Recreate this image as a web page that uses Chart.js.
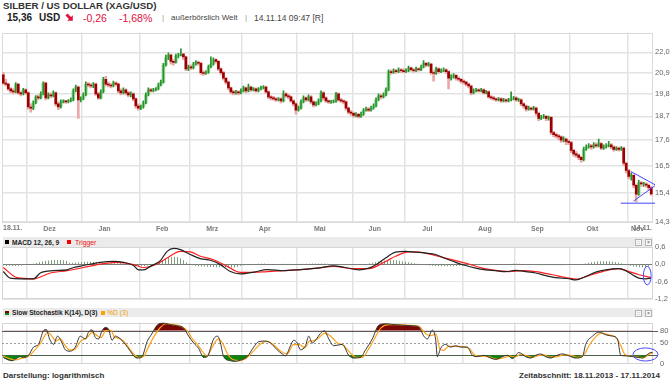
<!DOCTYPE html>
<html><head><meta charset="utf-8">
<script src="https://cdn.jsdelivr.net/npm/chart.js@4.4.1/dist/chart.umd.min.js"></script>
<style>
html,body{margin:0;padding:0;background:#fff}
body{width:671px;height:380px;overflow:hidden;position:relative;font-family:"Liberation Sans",Arial,sans-serif}
.a{position:absolute;white-space:nowrap;line-height:1}
canvas{position:absolute;left:0}
.bar{position:absolute;left:3px;width:650px;background:#ebebeb}
.sq{position:absolute;width:4px;height:4px}
.ic{position:absolute;width:5px;height:5px;border:1px solid #b4b4b4;background:#f7f7f7;font-size:5px;line-height:5px;text-align:center;color:#555}
</style></head><body>

<div class="a" style="left:3px;top:1.3px;font-size:9.7px;font-weight:bold;color:#333">SILBER / US DOLLAR (XAG/USD)</div>
<div class="a" style="left:7px;top:12.5px;font-size:10px;font-weight:bold;color:#222">15,36</div>
<div class="a" style="left:39px;top:12.5px;font-size:10px;font-weight:bold;color:#222">USD</div>
<svg style="position:absolute;left:65px;top:13px" width="9" height="9" viewBox="0 0 9 9"><polygon points="0.5,2.5 2.5,0.5 6,4 7.8,2.2 7.8,7.8 2.2,7.8 4,6" fill="#e0103c"/></svg>
<div class="a" style="left:83px;top:12.5px;font-size:10.5px;color:#e0103c">-0,26</div>
<div class="a" style="left:119px;top:12.5px;font-size:10.5px;color:#e0103c">-1,68%</div>
<div class="a" style="left:162px;top:14.2px;font-size:8px;color:#999">|</div>
<div class="a" style="left:171px;top:14.2px;font-size:8px;color:#444">außerbörslich Welt</div>
<div class="a" style="left:245px;top:14.2px;font-size:8px;color:#999">|</div>
<div class="a" style="left:254px;top:13.8px;font-size:8.5px;color:#444">14.11.14 09:47 [R]</div>

<div class="bar" style="top:237px;height:10px"></div>
<div class="sq" style="left:5px;top:240px;background:#000"></div>
<div class="a" style="left:12px;top:239.5px;font-size:6.6px;font-weight:bold;color:#222">MACD 12, 26, 9</div>
<div class="sq" style="left:67px;top:240px;background:#f00"></div>
<div class="a" style="left:75px;top:239.5px;font-size:6.8px;color:#f01010">Trigger</div>
<div class="ic" style="left:635px;top:239px">::</div>
<div class="ic" style="left:645px;top:239px">×</div>

<div class="bar" style="top:308px;height:9px"></div>
<div class="sq" style="left:5px;top:311px;background:linear-gradient(#7a0000 55%,#0a8a0a 55%)"></div>
<div class="a" style="left:12px;top:309.8px;font-size:6.6px;font-weight:bold;color:#222">Slow Stochastik K(14), D(3)</div>
<div class="sq" style="left:101px;top:311px;background:#ffa000"></div>
<div class="a" style="left:107px;top:309.8px;font-size:6.8px;color:#f0a000">%D (3)</div>
<div class="ic" style="left:635px;top:309.5px">::</div>
<div class="ic" style="left:645px;top:309.5px">×</div>

<div class="a" style="left:3px;top:371.5px;font-size:8px;font-weight:bold;color:#333">Darstellung: logarithmisch</div>
<div class="a" style="right:11px;top:371.5px;font-size:8px;font-weight:bold;color:#333">Zeitabschnitt: 18.11.2013 - 17.11.2014</div>

<canvas id="cMain" width="671" height="210" style="top:26px"></canvas>
<canvas id="cMacd" width="671" height="66" style="top:240px"></canvas>
<canvas id="cStoch" width="671" height="64" style="top:311px"></canvas>

<script>
// ---------- data ----------
const firstDay = '2013-11-18', lastDay = '2014-11-14';
const startLabel = '18.11.', endLabel = '14.11.';
const monthNames = ['Dez','Jan','Feb','Mrz','Apr','Mai','Jun','Jul','Aug','Sep','Okt','Nov'];
const priceTicks = [14.3,15.4,16.5,17.6,18.7,19.8,20.9,22.0];

const closes = [20.35,20.3,20.05,19.95,19.9,20.3,19.85,19.8,20.0,19.85,
19.15,19.1,19.35,19.65,19.6,19.8,20.35,19.6,19.75,19.7,
19.85,19.3,19.15,19.4,19.42,19.4,19.45,19.5,19.95,20.15,
19.5,19.55,19.75,20.3,20.25,20.2,20.3,19.8,19.6,19.9,
20.55,20.3,20.25,20.2,20.35,20.3,19.95,19.85,20.0,19.85,
19.75,19.8,19.55,19.2,19.1,19.15,19.35,19.75,20.0,19.95,
20.0,20.05,20.25,20.4,21.3,21.7,21.85,21.5,21.45,21.8,
21.85,21.9,21.75,21.1,21.2,21.15,21.35,21.45,21.4,20.9,
20.85,20.9,21.2,21.35,21.6,21.5,21.1,20.9,20.6,20.4,
20.1,19.9,19.85,19.9,19.85,19.95,20.1,19.95,20.15,20.0,
20.05,19.95,20.05,20.1,20.15,19.9,19.65,19.6,19.55,19.5,
19.55,19.45,19.8,19.7,19.65,19.45,19.3,19.0,19.1,19.4,
19.6,19.5,19.65,19.4,19.25,19.3,19.45,19.85,19.6,19.45,
19.4,19.4,19.42,19.8,19.5,19.45,19.4,19.1,18.9,18.85,
18.75,18.8,18.7,18.8,19.0,19.05,19.0,19.1,19.2,19.5,
19.7,19.65,19.75,20.0,20.95,20.9,21.0,20.95,21.05,21.0,
20.95,21.0,21.15,21.05,21.0,21.1,21.05,21.2,21.4,21.3,
21.35,20.9,20.85,21.1,20.95,21.0,21.05,20.95,20.6,20.7,
20.75,20.6,20.55,20.45,20.4,20.3,20.2,19.85,19.95,20.0,
19.95,20.0,19.85,19.9,19.65,19.6,19.55,19.5,19.55,19.45,
19.5,19.45,19.5,19.55,19.6,19.5,19.5,19.3,19.2,19.05,
19.1,19.05,19.1,18.85,18.6,18.65,18.7,18.6,18.65,17.95,
17.85,17.8,17.75,17.6,17.65,17.55,17.5,17.15,17.0,16.95,
16.85,16.75,17.2,17.3,17.35,17.3,17.4,17.35,17.45,17.25,
17.3,17.35,17.4,17.3,17.2,17.25,17.2,17.25,16.6,16.3,
16.05,16.1,15.7,15.35,15.8,15.75,15.75,15.7,15.6,15.36];

const opens = [20.78,20.35,20.3,20.05,19.95,19.9,20.3,19.85,19.8,20.0,
19.85,19.15,19.1,19.35,19.65,19.6,19.8,20.35,19.6,19.75,
19.7,19.85,19.3,19.15,19.4,19.42,19.4,19.45,19.5,19.95,
20.15,19.5,19.55,19.75,20.3,20.25,20.2,20.3,19.8,19.6,
19.9,20.55,20.3,20.25,20.2,20.35,20.3,19.95,19.85,20.0,
19.85,19.75,19.8,19.55,19.2,19.1,19.15,19.35,19.75,20.0,
19.95,20.0,20.05,20.25,20.4,21.3,21.7,21.85,21.5,21.45,
21.8,21.85,21.9,21.75,21.1,21.2,21.15,21.35,21.45,21.4,
20.9,20.85,20.9,21.2,21.35,21.6,21.5,21.1,20.9,20.6,
20.4,20.1,19.9,19.85,19.9,19.85,19.95,20.1,19.95,20.15,
20.0,20.05,19.95,20.05,20.1,20.15,19.9,19.65,19.6,19.55,
19.5,19.55,19.45,19.8,19.7,19.65,19.45,19.3,19.0,19.1,
19.4,19.6,19.5,19.65,19.4,19.25,19.3,19.45,19.85,19.6,
19.45,19.4,19.4,19.42,19.8,19.5,19.45,19.4,19.1,18.9,
18.85,18.75,18.8,18.7,18.8,19.0,19.05,19.0,19.1,19.2,
19.5,19.7,19.65,19.75,20.0,20.95,20.9,21.0,20.95,21.05,
21.0,20.95,21.0,21.15,21.05,21.0,21.1,21.05,21.2,21.4,
21.3,21.35,20.9,20.85,21.1,20.95,21.0,21.05,20.95,20.6,
20.7,20.75,20.6,20.55,20.45,20.4,20.3,20.2,19.85,19.95,
20.0,19.95,20.0,19.85,19.9,19.65,19.6,19.55,19.5,19.55,
19.45,19.5,19.45,19.5,19.55,19.6,19.5,19.5,19.3,19.2,
19.05,19.1,19.05,19.1,18.85,18.6,18.65,18.7,18.6,18.65,
17.95,17.85,17.8,17.75,17.6,17.65,17.55,17.5,17.15,17.0,
16.95,16.85,16.75,17.2,17.3,17.35,17.3,17.4,17.35,17.45,
17.25,17.3,17.35,17.4,17.3,17.2,17.25,17.2,17.25,16.6,
16.3,16.05,16.1,15.7,15.35,15.8,15.75,15.75,15.7,15.6];

const highs = [20.9,20.55,20.35,20.12,20.05,20.38,20.32,19.92,20.08,20.05,
19.9,19.3,19.45,19.72,19.75,19.9,20.42,20.4,19.85,19.85,
19.95,19.9,19.4,19.5,19.5,19.48,19.52,19.6,20.05,20.25,
20.2,19.65,19.85,20.42,20.38,20.32,20.38,20.35,19.88,20.0,
20.65,20.7,20.4,20.32,20.45,20.42,20.35,20.05,20.1,20.05,
19.92,19.9,19.85,19.6,19.3,19.25,19.45,19.85,20.1,20.08,
20.08,20.12,20.35,20.5,21.4,21.85,21.98,21.9,21.6,21.9,
21.95,22.2,21.95,21.8,21.3,21.3,21.45,21.55,21.52,21.45,
21.0,21.0,21.3,21.76,21.7,21.65,21.55,21.15,20.95,20.65,
20.45,20.15,19.98,19.98,19.95,20.05,20.2,20.15,20.3,20.2,
20.12,20.1,20.12,20.2,20.22,20.2,19.95,19.72,19.68,19.62,
19.62,19.6,19.95,19.85,19.78,19.7,19.5,19.35,19.2,19.5,
19.7,19.65,19.75,19.72,19.45,19.4,19.55,19.95,19.9,19.65,
19.5,19.48,19.5,19.88,19.85,19.58,19.5,19.45,19.15,18.98,
18.9,18.88,18.85,18.9,19.08,19.15,19.12,19.2,19.3,19.6,
19.8,19.78,19.85,20.1,21.05,21.05,21.1,21.08,21.15,21.12,
21.1,21.1,21.25,21.2,21.12,21.2,21.15,21.3,21.55,21.45,
21.45,21.4,21.0,21.2,21.15,21.1,21.15,21.1,21.0,20.8,
20.85,20.8,20.68,20.6,20.52,20.45,20.35,20.25,20.05,20.08,
20.05,20.08,20.05,19.98,19.95,19.72,19.68,19.6,19.62,19.6,
19.58,19.55,19.58,19.9,19.68,19.65,19.58,19.55,19.35,19.25,
19.2,19.15,19.18,19.15,18.9,18.75,18.8,18.75,18.72,18.7,
18.0,17.92,17.85,17.8,17.75,17.7,17.62,17.55,17.2,17.1,
17.0,16.9,17.3,17.4,17.45,17.42,17.5,17.48,17.65,17.5,
17.4,17.45,17.55,17.45,17.35,17.32,17.3,17.32,17.3,16.65,
16.35,16.2,16.15,15.75,15.9,15.85,15.82,15.8,15.75,15.65];

const lows = [20.28,20.2,19.98,19.85,19.8,19.85,19.78,19.7,19.75,19.78,
19.05,18.9,19.02,19.3,19.5,19.55,19.75,19.5,19.55,19.6,
19.65,19.2,19.02,19.1,19.35,19.33,19.35,19.4,19.45,19.9,
18.6,19.4,19.5,19.7,20.15,20.1,20.12,19.72,19.52,19.55,
19.85,20.2,20.15,20.1,20.15,20.2,19.85,19.75,19.8,19.75,
19.65,19.65,19.45,19.1,19.0,19.02,19.1,19.3,19.7,19.88,
19.9,19.95,20.0,20.2,20.35,21.25,21.6,21.35,21.3,21.4,
21.7,21.8,21.6,21.0,21.0,21.05,21.1,21.3,21.3,20.8,
20.75,20.8,20.85,21.15,21.3,21.4,21.0,20.8,20.5,20.3,
20.0,19.8,19.75,19.78,19.75,19.8,19.9,19.85,19.9,19.92,
19.95,19.88,19.9,20.0,20.05,19.82,19.55,19.5,19.48,19.42,
19.45,19.35,19.4,19.62,19.55,19.38,19.2,18.8,18.95,19.05,
19.35,19.42,19.45,19.3,19.15,19.2,19.25,19.4,19.5,19.38,
19.32,19.32,19.35,19.38,19.42,19.38,19.3,19.0,18.82,18.75,
18.65,18.68,18.62,18.65,18.75,18.95,18.92,18.95,19.05,19.15,
19.45,19.55,19.6,19.7,19.95,20.8,20.85,20.85,20.9,20.9,
20.88,20.9,20.95,20.98,20.92,20.95,20.98,21.0,21.15,21.2,
21.25,20.8,20.45,20.8,20.85,20.9,20.95,20.85,20.05,20.5,
20.6,20.5,20.45,20.35,20.3,20.2,20.1,19.75,19.8,19.9,
19.88,19.9,19.78,19.8,19.58,19.52,19.48,19.42,19.45,19.38,
19.4,19.38,19.4,19.45,19.5,19.42,19.42,19.22,19.1,18.95,
19.0,18.98,19.0,18.75,18.5,18.55,18.6,18.5,18.52,17.85,
17.75,17.7,17.62,17.5,17.52,17.4,17.4,17.05,16.9,16.85,
16.75,16.65,16.7,17.15,17.25,17.2,17.25,17.28,17.3,17.18,
17.2,17.25,17.3,17.22,17.12,17.15,17.12,17.15,16.5,16.2,
15.95,15.9,15.6,15.05,15.3,15.65,15.65,15.62,15.5,15.3];

// trend-line annotation (trading-day index, price)
const trendUpper = [[250.8,16.26],[260.5,15.72]];
const trendLower = [[251.9,15.08],[260.5,15.68]];
const supportLine = [[246.8,15.0],[260.5,15.0]];

// MACD panel (trading-day index / value)
const macdTicks = [0.6,0,-0.6,-1.2];
const macdIdx = [0,2.8,6.8,12.1,14.8,20.1,25.5,28.1,32.1,38.8,44.1,48.1,52.1,54.1,56.1,58.8,62.8,65.5,68.1,70.8,74.8,78.8,82.8,86.8,90.8,94.8,100.1,105.5,112.1,118.8,125.5,132.1,136.8,142.1,146.1,150.1,152.8,156.8,160.8,164.8,168.8,172.8,176.8,180.8,184.8,188.8,192.8,196.8,200.8,204.8,208.8,212.8,216.8,220.8,226.1,228.8,232.8,236.8,240.8,246.1,248.8,251.5,254.1,256.8,259];
const macdVal = [-0.25,-0.48,-0.50,-0.50,-0.30,-0.22,-0.19,-0.11,-0.04,0.07,0.10,0.07,-0.04,-0.19,-0.19,-0.07,0.13,0.45,0.55,0.51,0.34,0.20,0.14,-0.01,-0.25,-0.33,-0.27,-0.18,-0.22,-0.18,-0.13,-0.05,-0.11,-0.19,-0.13,0.05,0.22,0.42,0.45,0.42,0.39,0.34,0.20,0.07,-0.04,-0.13,-0.19,-0.22,-0.25,-0.21,-0.25,-0.30,-0.39,-0.46,-0.50,-0.54,-0.42,-0.27,-0.19,-0.15,-0.22,-0.36,-0.48,-0.50,-0.48];
const trigIdx = [0,5.5,12.1,18.8,25.5,32.1,38.8,45.5,52.1,56.1,61.5,65.5,70.8,74.8,78.8,84.1,89.5,94.8,100.1,105.5,112.1,118.8,125.5,132.1,139.5,146.1,152.8,156.8,162.1,166.1,170.1,175.5,180.8,186.1,191.5,196.8,202.1,207.5,212.8,219.5,226.1,229.5,234.1,239.5,246.1,250.1,254.1,258.8];
const trigVal = [-0.11,-0.46,-0.50,-0.30,-0.22,-0.11,0.01,0.07,-0.01,-0.11,0.01,0.22,0.45,0.43,0.28,0.16,-0.07,-0.28,-0.28,-0.25,-0.22,-0.18,-0.13,-0.07,-0.15,-0.15,0.10,0.28,0.43,0.42,0.36,0.24,0.13,0.01,-0.13,-0.21,-0.25,-0.22,-0.25,-0.36,-0.48,-0.51,-0.39,-0.25,-0.15,-0.25,-0.36,-0.46];
const histIdx = [0,3,7,9,11,14,17,21,25,27,29,33,37,39,44,50,52,54,57,59,61,63,66,69,72,74,78,83,88,92,95,100,104,108,113,118,124,130,135,140,145,148,152,156,160,164,167,170,174,179,183,187,192,197,202,205,208,212,217,222,226,230,233,237,241,245,248,251,254,257,259];
const histVal = [-0.05,-0.06,-0.05,-0.01,0.0,0.06,0.12,0.15,0.12,0.04,0.06,0.09,0.07,0.03,0.04,0.03,-0.02,-0.07,-0.06,-0.01,0.05,0.12,0.24,0.26,0.15,0.02,-0.07,-0.09,-0.10,-0.12,-0.05,0.01,0.03,0.0,0.02,0.01,0.03,0.02,-0.02,-0.03,0.01,0.06,0.12,0.15,0.10,0.05,0.0,-0.04,-0.07,-0.07,-0.05,-0.03,-0.02,-0.01,0.01,0.03,0.0,-0.02,-0.03,-0.03,-0.02,-0.01,0.04,0.10,0.11,0.08,0.01,-0.06,-0.10,-0.08,-0.05];
const macdMark = {x:257.4, y:-0.39, rx:1.55, ry:0.32};

// Stochastic panel
const stochTicks = [0,50,80];
const stochLevels = [20,50,80];
const kIdx = [0,1.5,3.5,5.5,6.8,8.1,10.1,12.1,14.1,16.1,17.2,18.5,20.1,21.7,23.5,24.8,26.8,28.8,30.8,32.8,34.1,35.5,36.8,38.1,39.5,40.8,42.1,43.5,44.8,46.8,48.8,50.8,52.8,54.1,55.5,57.5,59.5,61.5,64.1,66.8,69.5,72.1,74.1,76.1,78.1,80.1,81.5,84.1,85.7,86.8,88.1,90.8,92.8,94.8,97.5,100.1,102.1,104.8,106.8,109.5,111.5,112.8,114.8,116.1,117.5,118.8,120.8,122.1,123.5,124.8,126.8,128.4,130.1,132.1,135.5,138.1,140.1,142.8,144.8,147.5,150.1,152.8,156.8,159.5,163.5,166.1,168.1,169.5,171.5,172.8,173.5,174.8,176.8,178.8,180.8,182.8,185.5,187.5,189.5,192.1,194.8,196.8,199.5,201.5,203.5,206.1,208.8,210.8,212.8,214.8,216.8,218.8,220.8,223.5,226.1,228.8,231.5,232.8,235.5,238.1,240.8,243.5,245.5,246.8,248.8,251.5,254.1,255.5,256.8,258.8,259.5];
const kVal = [14.7,10,6.7,13.3,16.7,14.7,20,40,46.7,80,82.7,60,46.7,66.7,50,33.3,30,40,66.7,60,76.7,82,63.3,60,80,88,83.3,56.7,66.7,60,46.7,30,14.7,13.3,16.7,53.3,73.3,93.3,98.7,94.7,92,86.7,66.7,50,36.7,14.7,16.7,60,66.7,50,16.7,6.7,5.3,8,16.7,40,53.3,54.7,50,33.3,23.3,18.7,43.3,56.7,50,33.3,43.3,66.7,50,56.7,73.3,80,60,43.3,46.7,20,13.3,14.7,33.3,60,93.3,96.7,94.7,93.3,92,89.3,66.7,60,81.3,60,16.7,36.7,46.7,40,43.3,40,40,20,16.7,20,13.3,10,16.7,20,12,26.7,16.7,13.3,20,23.3,16.7,13.3,18.7,23.3,18.7,13.3,16.7,46.7,66.7,76.7,70,66.7,60,20,18.7,16.7,14.7,13.3,18.7,26.7,26.7];
const dIdx = [0,2.5,5,7.5,10,12.5,15,17.8,19.5,21,22.8,24.5,26.5,28.5,31,33.5,35.5,37.5,39,41,43,44.5,46,48,50,52,54,56,58,60,62.5,65,68,71,73.5,75.5,77.5,79.5,81.5,83.5,86,87.8,89.5,92,94.5,97,100,103,105.5,108,110.5,113.5,116,118.5,120.5,122.5,124,126,128.5,131,133.5,136,139,141,143.5,146,148.5,151,154,158,162,166,169,171,173,174.5,176,178,181,184,186.5,188.5,191,194,197,200,202.5,204.5,207,209.5,212,214,216,218.5,221,224,227,229.5,232,234,236.5,239,242,244.5,246.5,248.5,251,253.5,256,258,259.5];
const dVal = [18,12,9,13,17,32,50,76,66,55,60,46,33,34,55,63,76,68,63,80,81,64,62,55,40,24,15,17,40,63,86,97,95,91,80,61,47,30,18,40,60,48,25,9,7,12,30,49,54,46,32,24,46,46,38,55,55,62,74,66,50,44,24,15,15,35,62,87,95,95,93,91,72,68,72,35,32,42,42,41,35,20,18,16,11,14,18,16,23,18,15,20,21,16,16,21,20,15,20,42,63,74,70,65,48,22,18,16,14,22,26];
const stochMark = {x:256.7, y:22, rx:5, ry:16};

// ---------- build ----------
const FONT = '"Liberation Sans", Arial, sans-serif';
const dates = [];
for (let d = new Date(firstDay + 'T00:00:00Z'); d <= new Date(lastDay + 'T00:00:00Z'); d.setUTCDate(d.getUTCDate() + 1)) {
  const w = d.getUTCDay(); if (w !== 0 && w !== 6) dates.push(new Date(d));
}
const monthStarts = [];
for (let i = 1; i < dates.length; i++) if (dates[i].getUTCMonth() !== dates[i-1].getUTCMonth()) monthStarts.push(i);
const xTickDefs = [];
monthStarts.forEach((s, k) => {
  const e = (k + 1 < monthStarts.length ? monthStarts[k+1] : dates.length) - 1;
  xTickDefs.push({value: s - 0.5, label: '', grid: true});
  xTickDefs.push({value: Math.min(s + 8.5, e - 5.5), label: monthNames[k], grid: false});
});
xTickDefs.sort((a, b) => a.value - b.value);
const X_MIN = -0.5, X_MAX = 259.7;

function xScale(show) {
  return {
    type: 'linear', min: X_MIN, max: X_MAX, offset: false,
    afterBuildTicks: s => { s.ticks = xTickDefs.map(t => ({value: t.value})); },
    afterFit: s => { s.height = show ? 14 : 0; },
    grid: { offset: false, drawTicks: false, lineWidth: 1.5,
      color: c => (xTickDefs[c.index] && xTickDefs[c.index].grid) ? '#e3e3e3' : 'rgba(0,0,0,0)' },
    border: { display: false },
    ticks: { display: show, autoSkip: false, maxRotation: 0, minRotation: 0, padding: 3, color: '#7a7a7a',
      font: {family: FONT, size: 7, weight: 'bold'},
      callback: (v, i) => xTickDefs[i] ? xTickDefs[i].label : '' }
  };
}
const fmt = v => v.toFixed(1).replace('.', ',');
const pts = (xs, ys) => xs.map((x, i) => ({x, y: ys[i]}));
const seg = a => a.map(p => ({x: p[0], y: p[1]}));

const framePlugin = {
  id: 'frame',
  beforeDatasetsDraw(chart, args, o) {
    const a = chart.chartArea, c = chart.ctx;
    c.save(); c.strokeStyle = o.color || '#d9d9d9'; c.lineWidth = 1;
    c.strokeRect(Math.round(a.left) + 0.5, Math.round(a.top) + 0.5, Math.round(a.right - a.left) - 1, Math.round(a.bottom - a.top) - 1);
    c.restore();
  }
};
const edgePlugin = {
  id: 'edge',
  afterDraw(chart) {
    const a = chart.chartArea, c = chart.ctx;
    c.save(); c.font = 'bold 7px ' + FONT; c.fillStyle = '#7a7a7a'; c.textBaseline = 'top';
    c.textAlign = 'left'; c.fillText(startLabel, a.left + 1, a.bottom + 3);
    c.textAlign = 'right'; c.fillText(endLabel, a.right - 1, a.bottom + 3);
    c.restore();
  }
};
const ellipsePlugin = {
  id: 'ell',
  afterDatasetsDraw(chart, args, o) {
    if (!o || !o.mark) return;
    const m = o.mark, xs = chart.scales.x, ys = chart.scales.y, c = chart.ctx;
    const cx = xs.getPixelForValue(m.x), cy = ys.getPixelForValue(m.y);
    const rx = Math.abs(xs.getPixelForValue(m.x + m.rx) - cx), ry = Math.abs(ys.getPixelForValue(m.y + m.ry) - cy);
    c.save(); c.strokeStyle = '#4b4bff'; c.lineWidth = 1; c.beginPath(); c.ellipse(cx, cy, rx, ry, 0, 0, Math.PI * 2); c.stroke(); c.restore();
  }
};
const levelPlugin = {
  id: 'levels',
  beforeDatasetsDraw(chart) {
    const a = chart.chartArea, ys = chart.scales.y, c = chart.ctx;
    c.save();
    stochLevels.forEach(v => {
      const y = Math.round(ys.getPixelForValue(v)) + 0.5;
      c.beginPath();
      if (v === 50) { c.setLineDash([2, 2]); c.strokeStyle = '#9a9a9a'; } else { c.setLineDash([]); c.strokeStyle = '#5a5a5a'; }
      c.lineWidth = 1; c.moveTo(a.left, y); c.lineTo(a.right + 5, y); c.stroke();
    });
    c.restore();
  }
};

const base = { responsive: false, maintainAspectRatio: false, animation: false, events: [],
  plugins: { legend: {display: false}, tooltip: {enabled: false} } };

// ----- main candle chart -----
const idx = closes.map((c, i) => i);
const isUp = i => closes[i] >= opens[i];
const upBody = idx.filter(isUp).map(i => ({x: i, y: [opens[i], closes[i]]}));
const upWick = idx.filter(isUp).map(i => ({x: i, y: [lows[i], highs[i]]}));
const dnBody = idx.filter(i => !isUp(i)).map(i => ({x: i, y: [closes[i], opens[i]]}));
const dnWick = idx.filter(i => !isUp(i)).map(i => ({x: i, y: [lows[i], highs[i]]}));
const barDs = (data, color, w, order) => ({ type: 'bar', data, backgroundColor: color, borderWidth: 0, barThickness: w, grouped: false, minBarLength: 1, order });
const lineDs = (data, order) => ({ type: 'line', data, borderColor: '#4545ff', borderWidth: 1, pointRadius: 0, fill: false, tension: 0, clip: false, order });

new Chart(document.getElementById('cMain'), {
  type: 'bar',
  data: { datasets: [
    lineDs(seg(trendUpper), 0), lineDs(seg(trendLower), 0), lineDs(seg(supportLine), 0),
    barDs(upWick, '#23932a', 1, 1),
    barDs(dnBody, '#9c0000', 2, 2),
    barDs(dnWick, '#e8a9a9', 2, 3),
    barDs(upBody, '#a3d9a3', 3, 4)
  ]},
  options: Object.assign({}, base, {
    layout: { padding: {top: 5, left: 2, right: 0, bottom: 0} },
    plugins: Object.assign({}, base.plugins, { frame: {color: '#dadada'} }),
    scales: {
      x: xScale(true),
      y: { type: 'logarithmic', position: 'right', min: 14.3, max: 23.14,
        afterBuildTicks: s => { s.ticks = priceTicks.map(v => ({value: v})); },
        afterFit: s => { s.width = 18; },
        grid: { color: '#e3e3e3', lineWidth: 1.5, drawTicks: false },
        border: { display: false },
        ticks: { padding: 2, color: '#666', font: {family: FONT, size: 7.5}, callback: v => fmt(v) } }
    }
  }),
  plugins: [framePlugin, edgePlugin]
});

// ----- MACD -----
const pc = document.createElement('canvas'); pc.width = 3; pc.height = 2;
const pg = pc.getContext('2d'); pg.fillStyle = '#7c9c7c'; pg.fillRect(0, 0, 1, 2);
const stripe = pg.createPattern(pc, 'repeat');

new Chart(document.getElementById('cMacd'), {
  type: 'line',
  data: { datasets: [
    { data: pts(macdIdx, macdVal), borderColor: '#222', borderWidth: 1.2, pointRadius: 0, cubicInterpolationMode: 'monotone', fill: false, order: 0 },
    { data: pts(trigIdx, trigVal), borderColor: '#ff1e1e', borderWidth: 1.2, pointRadius: 0, cubicInterpolationMode: 'monotone', fill: false, order: 1 },
    { data: pts(histIdx, histVal), borderWidth: 0, borderColor: 'rgba(0,0,0,0)', backgroundColor: stripe, pointRadius: 0, cubicInterpolationMode: 'monotone', fill: 'origin', order: 2 }
  ]},
  options: Object.assign({}, base, {
    layout: { padding: {top: 7, left: 2, right: 0, bottom: 7} },
    plugins: Object.assign({}, base.plugins, { frame: {color: '#d4d4d4'}, ell: {mark: macdMark} }),
    scales: {
      x: xScale(false),
      y: { type: 'linear', position: 'right', min: -1.2, max: 0.6,
        afterBuildTicks: s => { s.ticks = macdTicks.map(v => ({value: v})); },
        afterFit: s => { s.width = 18; },
        grid: { color: c => c.tick && c.tick.value === 0 ? '#7a7a7a' : '#e6e6e6', lineWidth: 1, drawTicks: false },
        border: { display: false },
        ticks: { padding: 2, color: '#666', font: {family: FONT, size: 7.5}, callback: v => fmt(v) } }
    }
  }),
  plugins: [framePlugin, ellipsePlugin]
});

// ----- Stochastic -----
const kPts = pts(kIdx, kVal);
new Chart(document.getElementById('cStoch'), {
  type: 'line',
  data: { datasets: [
    { data: kPts, borderColor: '#383838', borderWidth: 1, pointRadius: 0, cubicInterpolationMode: 'monotone', fill: false, order: 0 },
    { data: pts(dIdx, dVal), borderColor: '#ffa31a', borderWidth: 1.2, pointRadius: 0, cubicInterpolationMode: 'monotone', fill: false, order: 1 },
    { data: kPts, borderWidth: 0, borderColor: 'rgba(0,0,0,0)', pointRadius: 0, cubicInterpolationMode: 'monotone',
      fill: { target: {value: 80}, above: '#7b0606', below: 'rgba(0,0,0,0)' }, order: 2 },
    { data: kPts, borderWidth: 0, borderColor: 'rgba(0,0,0,0)', pointRadius: 0, cubicInterpolationMode: 'monotone',
      fill: { target: {value: 20}, above: 'rgba(0,0,0,0)', below: '#0b840b' }, order: 3 }
  ]},
  options: Object.assign({}, base, {
    layout: { padding: {top: 7, left: 2, right: 0, bottom: 7} },
    plugins: Object.assign({}, base.plugins, { frame: {color: '#d4d4d4'}, ell: {mark: stochMark} }),
    scales: {
      x: xScale(false),
      y: { type: 'linear', position: 'right', min: 0, max: 100,
        afterBuildTicks: s => { s.ticks = stochTicks.map(v => ({value: v})); },
        afterFit: s => { s.width = 18; },
        grid: { display: false, drawTicks: false },
        border: { display: false },
        ticks: { padding: 7, color: '#666', font: {family: FONT, size: 7.5}, callback: v => String(v) } }
    }
  }),
  plugins: [framePlugin, levelPlugin, ellipsePlugin]
});
</script>
</body></html>
